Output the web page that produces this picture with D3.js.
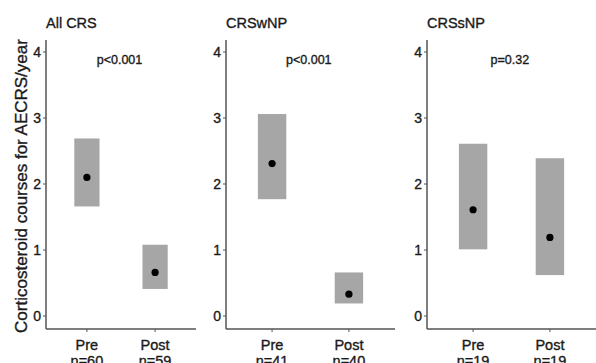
<!DOCTYPE html>
<html><head><meta charset="utf-8">
<script src="https://cdn.jsdelivr.net/npm/d3@7"></script>
<style>body{margin:0;background:#fff}svg{display:block}text{font-family:"Liberation Sans",Arial,sans-serif;fill:#1a1a1a;stroke:#1a1a1a;stroke-width:0.35px}</style>
</head><body><svg id="c" width="596" height="363"></svg>
<script>
const panels = ["All CRS", "CRSwNP", "CRSsNP"];
const pvalues = ["p<0.001", "p<0.001", "p=0.32"];
const groups = ["Pre", "Post"];
const nLabels = [["n=60", "n=59"], ["n=41", "n=40"], ["n=19", "n=19"]];
const medians = [[2.1, 0.66], [2.31, 0.33], [1.61, 1.19]];
const lower = [[1.66, 0.41], [1.77, 0.19], [1.01, 0.62]];
const upper = [[2.69, 1.08], [3.06, 0.66], [2.61, 2.39]];
const yTicks = [0, 1, 2, 3, 4];

const svg = d3.select("#c");
const y = d3.scaleLinear().domain([0, 4]).range([316, 52]);
const axisY = 329;
const panelX = [[46, 196], [226, 395], [427, 596]];
const axisColor = "#555";

svg.append("text").attr("transform", "translate(27,186) rotate(-90)")
  .attr("text-anchor", "middle").attr("font-size", 17).text("Corticosteroid courses for AECRS/year");

panels.forEach((name, i) => {
  const [x0, x1] = panelX[i];
  const x = d3.scalePoint().domain(groups).range([x0, x1]).padding(0.6);
  const unit = x.step();
  const g = svg.append("g");
  g.append("line").attr("x1", x0).attr("x2", x0).attr("y1", 40).attr("y2", axisY)
    .attr("stroke", axisColor).attr("stroke-width", 1.5);
  g.append("line").attr("x1", x0).attr("x2", x1).attr("y1", axisY).attr("y2", axisY)
    .attr("stroke", axisColor).attr("stroke-width", 1.5);
  yTicks.forEach(t => {
    g.append("line").attr("x1", x0 - 3).attr("x2", x0).attr("y1", y(t)).attr("y2", y(t))
      .attr("stroke", axisColor).attr("stroke-width", 1);
    g.append("text").attr("x", x0 - 5).attr("y", y(t) + 5).attr("text-anchor", "end")
      .attr("font-size", 14).text(t);
  });
  groups.forEach((gr, j) => {
    g.append("line").attr("x1", x(gr)).attr("x2", x(gr)).attr("y1", axisY).attr("y2", axisY + 3)
      .attr("stroke", axisColor).attr("stroke-width", 1);
    g.append("text").attr("x", x(gr)).attr("y", 350).attr("text-anchor", "middle")
      .attr("font-size", 14.5).text(gr);
    g.append("text").attr("x", x(gr)).attr("y", 366).attr("text-anchor", "middle")
      .attr("font-size", 14.5).text(nLabels[i][j]);
  });
  const bw = unit * 0.37;
  groups.forEach((gr, j) => {
    g.append("rect").attr("x", x(gr) - bw / 2).attr("width", bw)
      .attr("y", y(upper[i][j])).attr("height", y(lower[i][j]) - y(upper[i][j]))
      .attr("fill", "#a6a6a6");
    g.append("circle").attr("cx", x(gr)).attr("cy", y(medians[i][j])).attr("r", 3.6)
      .attr("fill", "#000");
  });
  g.append("text").attr("x", x0).attr("y", 28).attr("font-size", 14.5).text(name);
  g.append("text").attr("x", x0 + (x1 - x0) * 0.49).attr("y", 64).attr("text-anchor", "middle")
    .attr("font-size", 12.5).text(pvalues[i]);
});
</script></body></html>
